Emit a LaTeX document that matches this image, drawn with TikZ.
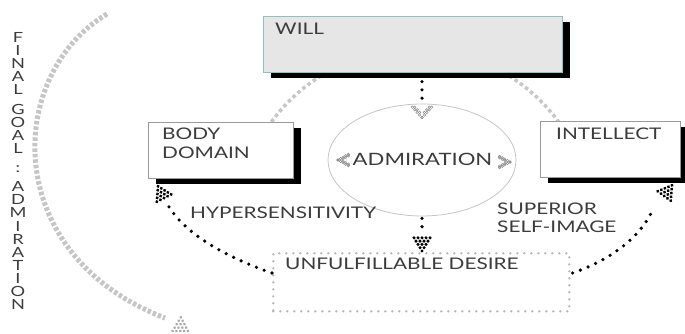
\documentclass[tikz,border=0pt]{standalone}
\usepackage{fontspec}
\setmainfont{Lato}[FakeStretch=1.3]
\usetikzlibrary{shapes.geometric,shadows,calc}
\definecolor{txtgray}{HTML}{3C3C3C}
\definecolor{willfill}{HTML}{E6E6E6}
\definecolor{willedge}{HTML}{8CC2C0}
\definecolor{boxedge}{HTML}{9A9A9A}
\definecolor{lightdash}{HTML}{C6C6C6}
\definecolor{arrowgray}{HTML}{A8A8A8}
\definecolor{desiredot}{HTML}{B8B8B8}
\definecolor{ringgray}{HTML}{8A8A8A}

% triangle of filled dots, tip at #1, pointing along angle #2
\newcommand{\dotarrowhead}[4]{%
  \begin{scope}[shift={#1}, rotate=#2]
    \foreach \k in {0,...,4}{
      \foreach \j in {0,...,\k}{
        \fill[#3] ({-\k*3.3}, {(\j-\k/2)*4}) circle[radius=#4];
      }
    }
  \end{scope}}

% chevron of small open rings, tip at #1, pointing along angle #2, arm spread #3
\newcommand{\ringchevron}[3]{%
  \begin{scope}[shift={#1}, rotate=#2]
    \foreach \k in {0,...,4}{
      \draw[ringgray, line width=0.45pt] ({-\k*2.6}, {\k*#3}) circle[radius=1.3pt];
      \draw[ringgray, line width=0.45pt] ({-\k*2.6}, {-\k*#3}) circle[radius=1.3pt];
    }
    \foreach \k in {1,...,3}{
      \draw[ringgray, line width=0.45pt] ({-\k*2.6-2.6}, {\k*#3}) circle[radius=1.3pt];
      \draw[ringgray, line width=0.45pt] ({-\k*2.6-2.6}, {-\k*#3}) circle[radius=1.3pt];
    }
  \end{scope}}

\begin{document}
\begin{tikzpicture}[x=1pt, y=-1pt,
  lbl/.style={font=\fontsize{16}{19}\selectfont, text=txtgray, inner sep=0pt, align=left},
  shadowbox/.style={rectangle, inner sep=0pt, line width=1.3pt,
    drop shadow={shadow xshift=7.5pt, shadow yshift=-5pt, fill=black, opacity=1}},
  bdots/.style={draw=black, line width=3.6pt, line cap=round, dash pattern=on 0pt off 8.3pt},
  bigdash/.style={draw=lightdash, line width=5pt, dash pattern=on 3.5pt off 2pt},
  arcdash/.style={draw=lightdash, line width=3.5pt, dash pattern=on 3.5pt off 3pt},
]
\useasboundingbox (0,0) rectangle (685,334);
\fill[white] (0,0) rectangle (685,334);

% large circle of the cycle, mostly hidden behind the boxes
\draw[arcdash] (415,227) ++(-148:178) arc[start angle=-148, end angle=-32, radius=178];

% boxes
\node[shadowbox, draw=willedge, fill=willfill, minimum width=299pt, minimum height=56pt, anchor=north west] (will) at (263,16) {};
\node[shadowbox, draw=boxedge, fill=white, minimum width=145pt, minimum height=56pt, anchor=north west] (body) at (148,122) {};
\node[shadowbox, draw=boxedge, fill=white, minimum width=140pt, minimum height=56pt, anchor=north west] (intellect) at (540,121) {};
\node[ellipse, draw=lightdash, line width=0.8pt, minimum width=188pt, minimum height=112pt] (adm) at (422,160) {};
\node[rectangle, draw=desiredot, line width=2.6pt, line cap=round, dash pattern=on 0pt off 7pt,
      minimum width=296pt, minimum height=58pt, anchor=north west] (desire) at (272,252) {};

% labels
\node[lbl, anchor=north west] (willlbl) at (275,23) {WILL};
\node[lbl, anchor=north west] (bodylbl) at (162,128) {BODY\\DOMAIN};
\node[lbl, anchor=north west] (intlbl) at (556,128) {INTELLECT};
\node[lbl, font=\fontsize{17}{19}\selectfont] (admlbl) at (422.5,159.5) {ADMIRATION};
\node[lbl, anchor=north west] (hyper) at (190,207) {HYPERSENSITIVITY};
\node[lbl, anchor=north west, font=\fontsize{16}{17.5}\selectfont] (superior) at (497,203) {SUPERIOR\\SELF-IMAGE};
\node[lbl, anchor=north west] (desirelbl) at (285,258) {UNFULFILLABLE DESIRE};

% rings flanking the central word
\ringchevron{(338,160)}{180}{1.4}
\ringchevron{(510,162)}{0}{1.4}

% will -> admiration
\draw[bdots] ($(adm.north)+(0,-22)$) -- ($(adm.north)+(0,-5)$);
\ringchevron{($(adm.north)+(0,14)$)}{-90}{2.4}

% admiration -> desire
\draw[bdots] ($(adm.south)+(0,2)$) -- ($(adm.south)+(0,17)$);
\dotarrowhead{($(adm.south |- desire.north)+(0,-1)$)}{-90}{black}{1.7pt}

% desire -> body domain
\draw[bdots] ($(desire.north west)+(0,21)$) .. controls (225,257) and (182,232) .. ($(body.south west)+(19,24)$);
\dotarrowhead{($(body.south west)+(10,7)$)}{117}{black}{1.7pt}

% desire -> intellect
\draw[bdots] ($(desire.north east)+(2,21)$) .. controls (610,260) and (640,238) .. ($(intellect.south west)+(113,31)$);
\dotarrowhead{($(intellect.south west)+(132,7)$)}{54}{black}{1.7pt}

% final goal arc with its vertical caption
\coordinate (goalstart) at (107,14);
\coordinate (goalend) at (165,318);
\draw[bigdash] (goalstart) .. controls (5,75) and (0,255) .. (goalend);
\dotarrowhead{($(goalend)+(23,13)$)}{-31}{arrowgray}{1.5pt}

\node[font=\fontsize{14}{13.1}\selectfont, text=txtgray, inner sep=0pt, align=center, anchor=north]
  (goal) at (18,32)
  {F\\I\\N\\A\\L\\[6.5pt]G\\O\\A\\L\\[6pt]:\\[6pt]A\\D\\M\\I\\R\\A\\T\\I\\O\\N};
\end{tikzpicture}
\end{document}
